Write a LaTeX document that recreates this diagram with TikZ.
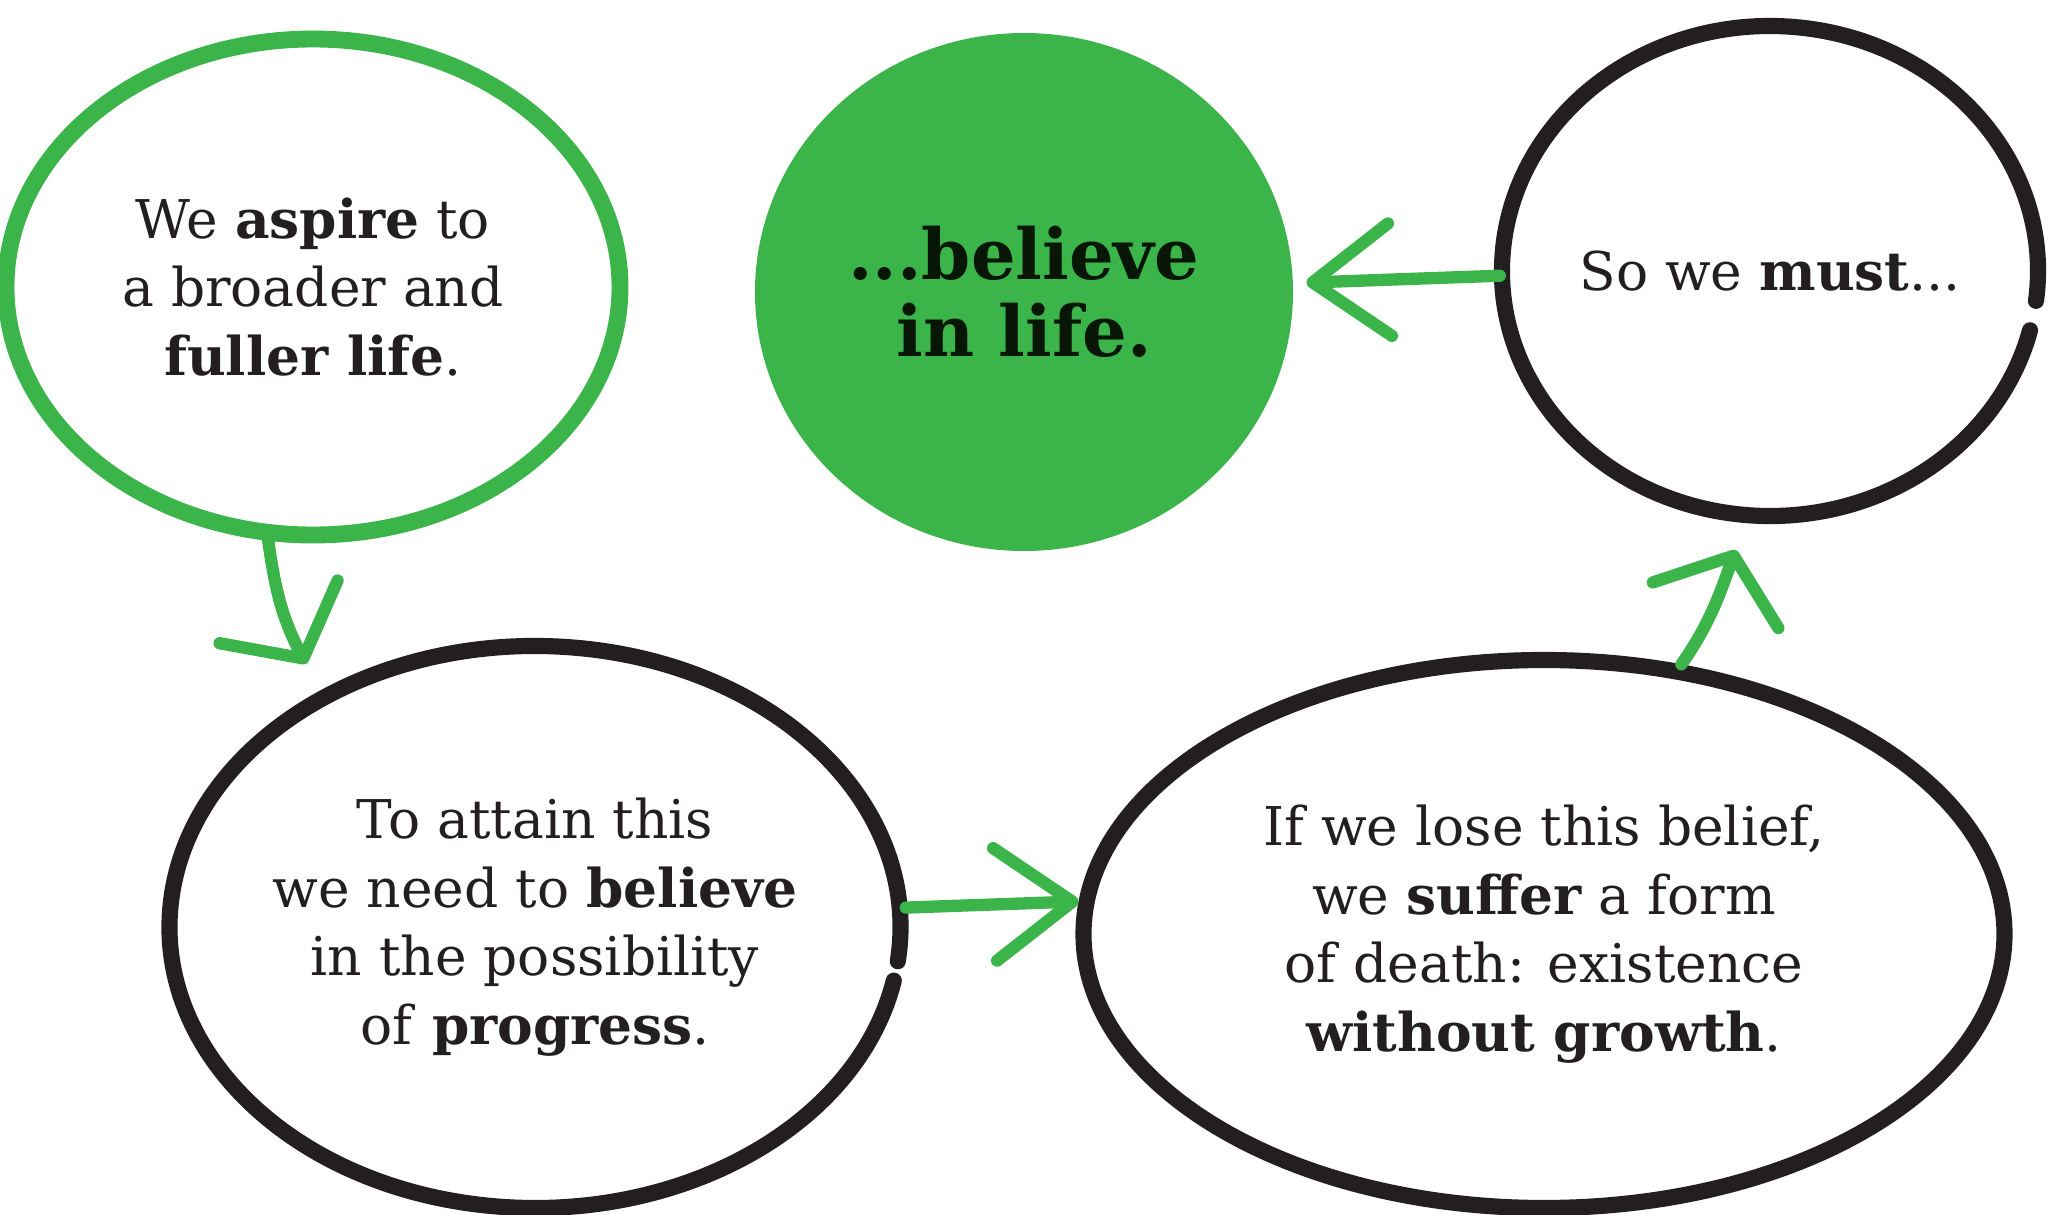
\documentclass[tikz,border=0pt]{standalone}
\usepackage{fontspec}
\usepackage{xcolor}
\usetikzlibrary{arrows.meta, shapes.geometric}
\setmainfont{DejaVu Serif}

\definecolor{leaf}{RGB}{59,181,74}
\definecolor{ink}{RGB}{35,31,32}
\definecolor{deepink}{RGB}{8,22,6}

\begin{document}
\begin{tikzpicture}[
    bubble/.style={ellipse, inner sep=0pt, align=center, text=ink,
        font=\fontsize{15.2}{19.5}\selectfont},
    rim/.style={line width=4.6pt, draw=ink, line cap=round},
    flow/.style={line width=3.5pt, draw=leaf, line cap=round,
        -{Straight Barb[length=22pt, width=32pt, round]}},
    wideflow/.style={flow, -{Straight Barb[length=15pt, width=38pt, round]}},
]
    \useasboundingbox (0,0) rectangle (20.48,-12.15);

    % bubbles
    \node[bubble, draw=leaf, line width=4.8pt, minimum width=6.14cm, minimum height=4.96cm]
        (aspire) at (3.13,-2.87) {We \textbf{aspire} to\\a broader and\\\textbf{fuller life}.};
    \node[bubble, fill=leaf, text=deepink, minimum width=5.38cm, minimum height=5.18cm,
        font=\fontsize{20}{22}\selectfont\bfseries]
        (life) at (10.24,-2.92) {...believe\\in life.};
    \node[bubble, minimum width=5.36cm, minimum height=4.90cm]
        (must) at (17.70,-2.71) {So we \textbf{must}...};
    \node[bubble, minimum width=7.31cm, minimum height=5.62cm]
        (attain) at (5.35,-9.27) {To attain this\\we need to \textbf{believe}\\in the possibility\\of \textbf{progress}.};
    \node[bubble, draw=ink, line width=4.6pt, minimum width=9.21cm, minimum height=5.48cm]
        (lose) at (15.44,-9.34) {If we lose this belief,\\we \textbf{suffer} a form\\of death: existence\\\textbf{without growth}.};

    % open rims
    \draw[rim] (must.center) ++(-7:2.68 and 2.45) arc[start angle=-7, end angle=346, x radius=2.68, y radius=2.45];
    \draw[rim] (attain.center) ++(-7:3.655 and 2.81) arc[start angle=-7, end angle=349, x radius=3.655, y radius=2.81];

    % arrows
    \draw[wideflow] (aspire.-100) to[out=-82, in=118] ([shift={(131:0.37)}]attain.131);
    \draw[flow] (attain.3) -- (lose.176);
    \draw[wideflow] (lose.63) to[out=55, in=-110] ([shift={(-97:0.35)}]must.-97);
    \draw[flow] (must.181) -- ([xshift=0.13cm]life.2);
\end{tikzpicture}
\end{document}
